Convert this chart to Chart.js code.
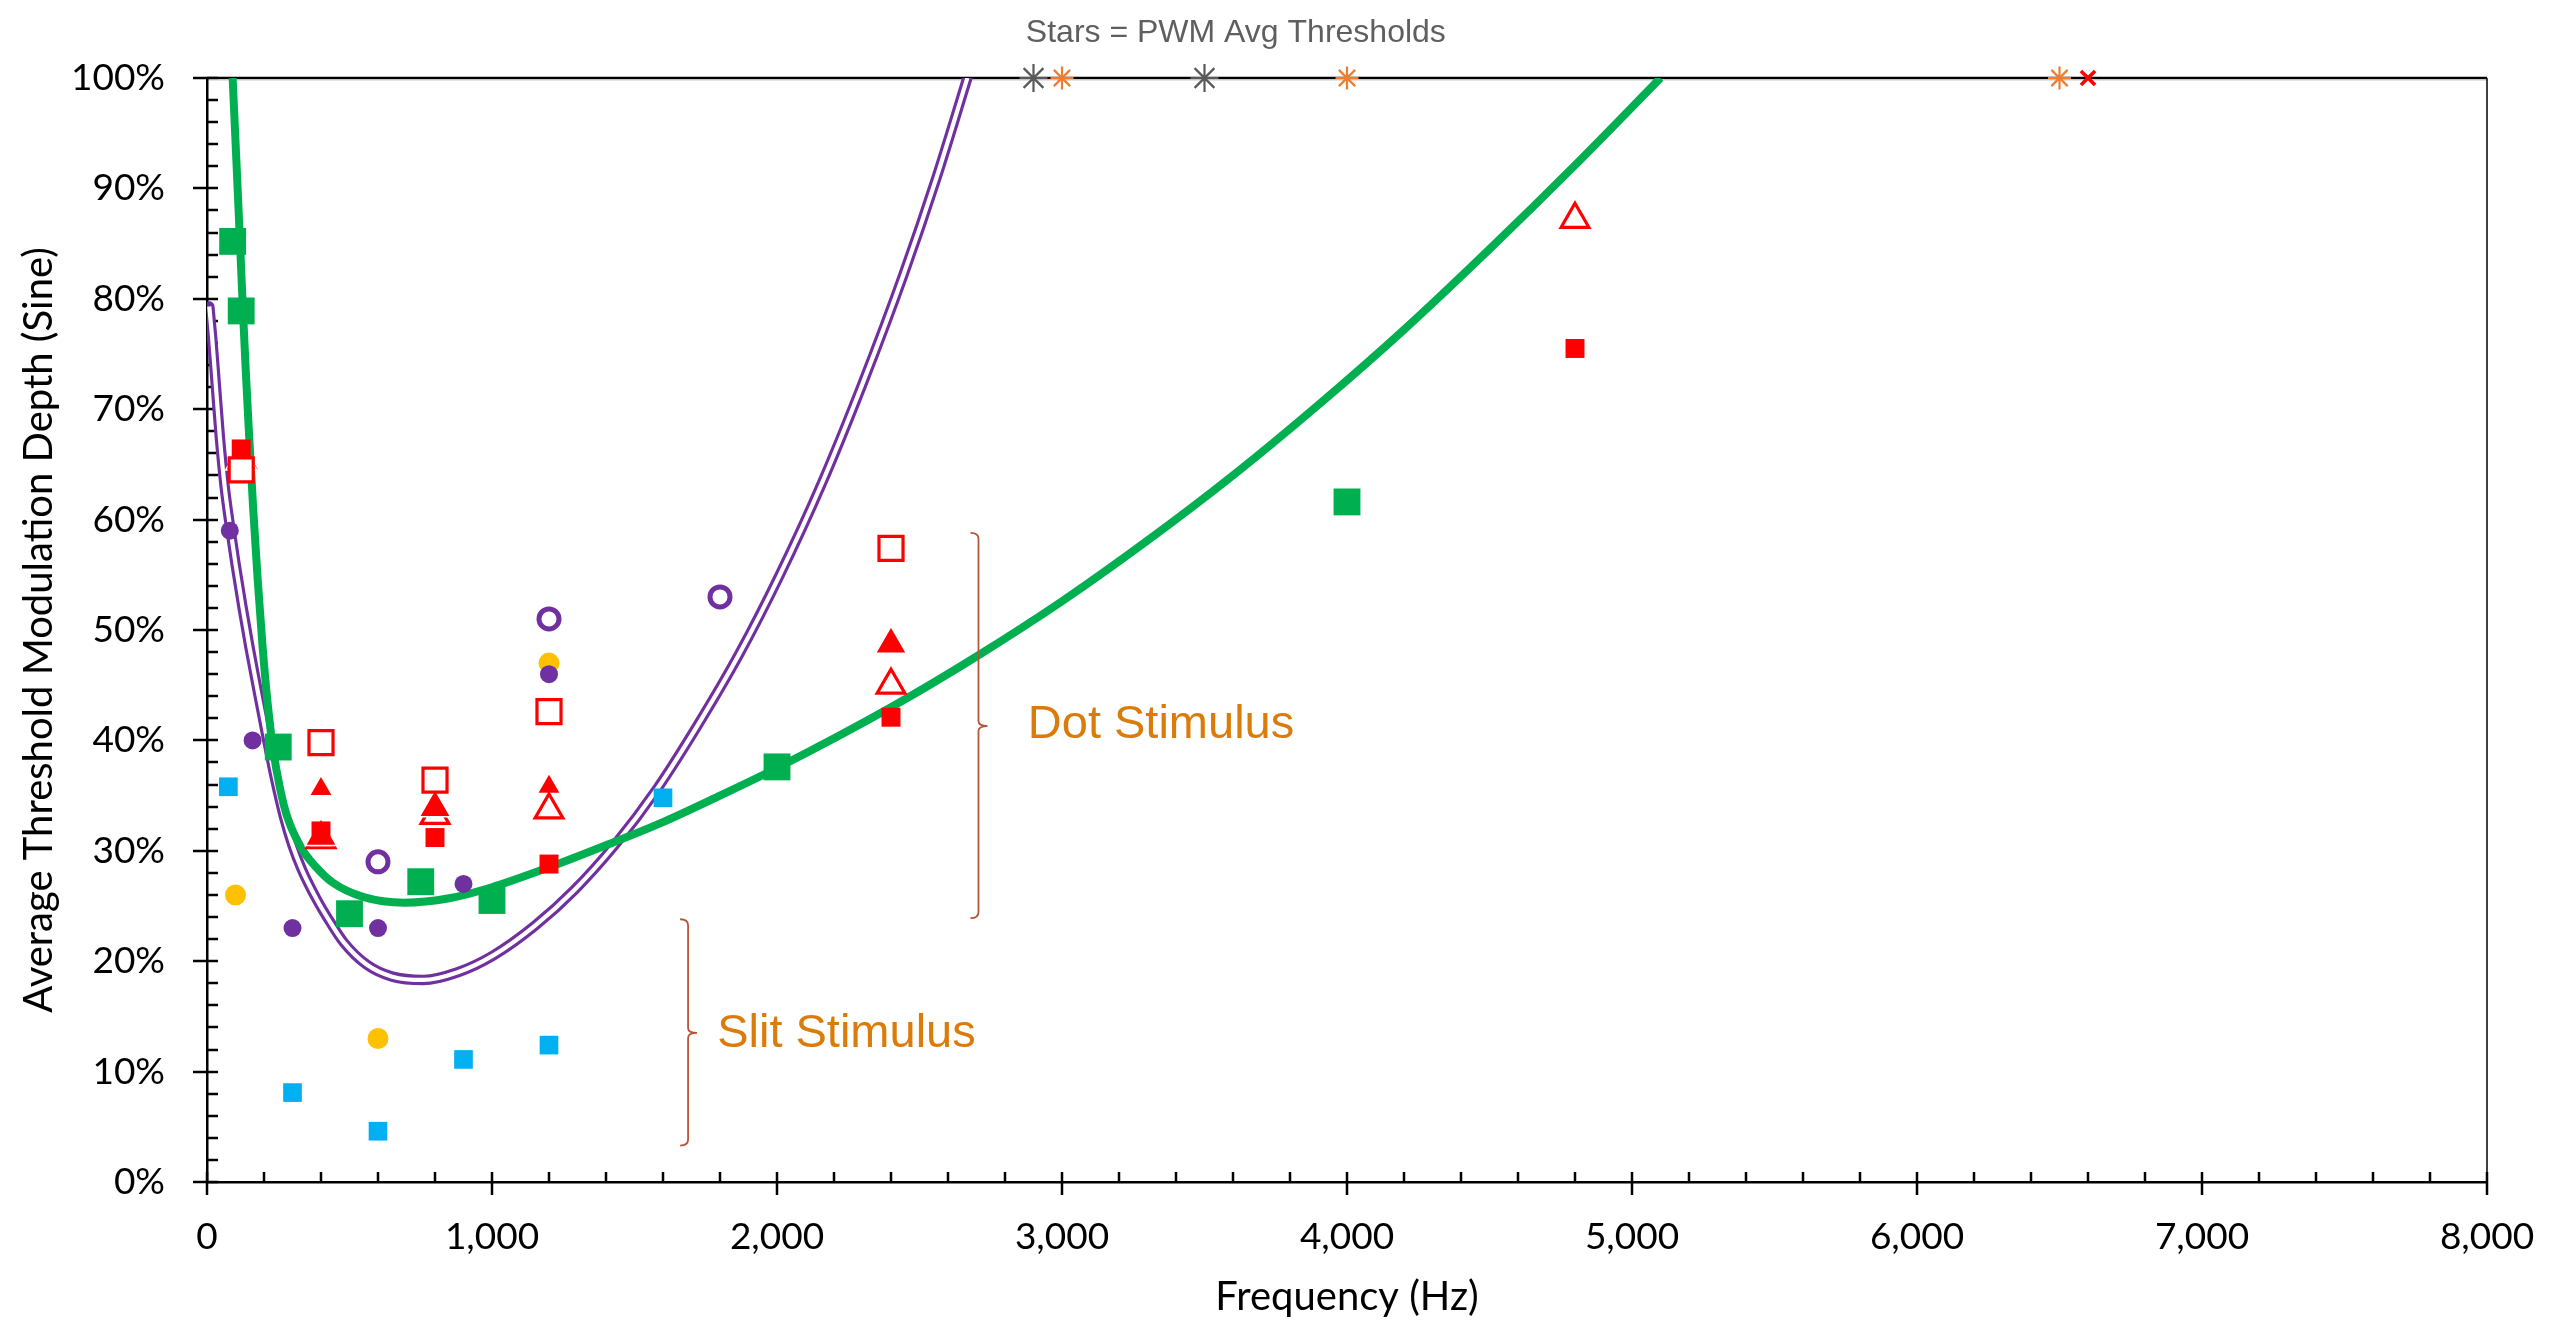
<!DOCTYPE html>
<html>
<head>
<meta charset="utf-8">
<title>Threshold Modulation Depth vs Frequency</title>
<script src="https://cdn.jsdelivr.net/npm/chart.js@4.4.1/dist/chart.umd.min.js"></script>
<style>
  html, body { margin: 0; padding: 0; background: #fff; }
  #chart { display: block; }
</style>
</head>
<body>
<canvas id="chart" width="2575" height="1322"></canvas>
<script>
// Frequencies in Hz, thresholds in % modulation depth (sine)

// fitted curves
var greenFitX = [90, 104, 116, 126, 136, 148, 162, 178, 195, 213, 232, 255, 280, 330, 380, 442, 550, 693, 850, 1000, 1200, 1400, 1600, 1800, 2000, 2400, 2700, 3000, 3300, 3600, 3900, 4200, 4500, 4800, 5100];
var greenFitY = [100, 92, 85, 79, 73.5, 67.5, 61, 54.5, 48.5, 43.3, 39.2, 35.8, 33.2, 30.3, 28.6, 27.1, 25.8, 25.3, 25.7, 26.7, 28.5, 30.5, 32.6, 35.0, 37.5, 43.0, 47.6, 52.6, 58.1, 64.0, 70.4, 77.2, 84.5, 92.1, 100];

var purpleFitX = [8, 18, 30, 45, 62, 80, 100, 125, 150, 180, 210, 240, 270, 300, 333, 385, 426, 480, 560, 650, 759, 880, 1003, 1150, 1291, 1430, 1579, 1720, 1867, 2010, 2156, 2300, 2444, 2560, 2668];
var purpleFitY = [79.3, 76.5, 72.5, 67.5, 63, 59.5, 56, 52, 48.3, 44.2, 40.2, 36.4, 33.1, 30.5, 28.3, 25.6, 23.8, 21.7, 19.7, 18.6, 18.3, 19.0, 20.5, 23.2, 26.5, 30.5, 35.6, 41.3, 47.8, 55.0, 63.2, 72.3, 82.2, 91.0, 100];

// measured thresholds
var greenSqX = [90, 120, 250, 500, 750, 1000, 2000, 4000];
var greenSqY = [85.2, 78.9, 39.4, 24.3, 27.2, 25.5, 37.6, 61.6];

var redOpenSqX = [120, 400, 800, 1200, 2400];
var redOpenSqY = [64.5, 39.8, 36.4, 42.6, 57.4];

var redSqX = [120, 400, 800, 1200, 2400, 4800];
var redSqY = [66.4, 31.8, 31.2, 28.8, 42.1, 75.5];

var redTriX = [120, 400, 800, 2400];
var redTriY = [65.3, 31.3, 33.9, 48.7];

var redOpenTriX = [120, 400, 800, 1200, 2400, 4800];
var redOpenTriY = [65.4, 31.0, 33.2, 33.7, 45.0, 87.2];

var redSmallTriX = [400, 1200];
var redSmallTriY = [35.6, 35.8];

var purpleDotX = [80, 160, 300, 600, 900, 1200];
var purpleDotY = [59.0, 40.0, 23.0, 23.0, 27.0, 46.0];

var purpleRingX = [600, 1200, 1800];
var purpleRingY = [29.0, 51.0, 53.0];

var yellowDotX = [100, 600, 1200];
var yellowDotY = [26.0, 13.0, 47.0];

var cyanSqX = [75, 300, 600, 900, 1200, 1600];
var cyanSqY = [35.8, 8.1, 4.6, 11.1, 12.4, 34.8];

// PWM averages (off the top of the scale)
var grayStarX = [2900, 3500];
var grayStarY = [100, 100];
var orangeStarX = [3000, 4000, 6500];
var orangeStarY = [100, 100, 100];
var redCrossX = [6600];
var redCrossY = [100];

function pts(xs, ys) {
    return xs.map(function (x, i) { return { x: x, y: ys[i] }; });
}

// brace annotations, in data units
var braces = [
    { x: 2707, top: 58.8, bottom: 23.9, mid: 41.3, text: 'Dot Stimulus', tx: 2880, ty: 40.2 },
    { x: 1688, top: 23.8, bottom: 3.3, mid: 13.5, text: 'Slit Stimulus', tx: 1790, ty: 12.2 }
];
var starsNote = { text: 'Stars = PWM Avg Thresholds', x: 3610, y: 103.3 };

var frame = {
    id: 'frame',
    beforeDatasetsDraw: function (chart) {
        var ctx = chart.ctx;
        var a = chart.chartArea;
        var xs = chart.scales.x;
        var ys = chart.scales.y;
        ctx.save();
        ctx.strokeStyle = '#000';
        ctx.lineWidth = 2.5;
        ctx.beginPath();
        for (var f = 0; f <= 8000; f += 200) {
            var px = Math.round(xs.getPixelForValue(f));
            ctx.moveTo(px, a.bottom + (f % 1000 === 0 ? 13 : 0));
            ctx.lineTo(px, a.bottom - 10);
        }
        for (var v = 0; v <= 100; v += 2) {
            var py = Math.round(ys.getPixelForValue(v));
            ctx.moveTo(a.left - (v % 10 === 0 ? 14 : 0), py);
            ctx.lineTo(a.left + 11, py);
        }
        ctx.stroke();
        // top + right edge of the plot area
        ctx.beginPath();
        ctx.lineWidth = 2.5;
        ctx.moveTo(a.left, a.top);
        ctx.lineTo(a.right, a.top);
        ctx.stroke();
        ctx.beginPath();
        ctx.strokeStyle = '#c8c8c8';
        ctx.lineWidth = 1.2;
        ctx.moveTo(a.left + 2, a.top + 2);
        ctx.lineTo(a.right, a.top + 2);
        ctx.stroke();
        ctx.beginPath();
        ctx.strokeStyle = '#000';
        ctx.lineWidth = 1.5;
        ctx.moveTo(a.right, a.top);
        ctx.lineTo(a.right, a.bottom);
        ctx.stroke();
        ctx.restore();
    },
    afterDatasetsDraw: function (chart) {
        var ctx = chart.ctx;
        var xs = chart.scales.x;
        var ys = chart.scales.y;
        ctx.save();
        braces.forEach(function (b) {
            var x = xs.getPixelForValue(b.x);
            var t = ys.getPixelForValue(b.top);
            var bt = ys.getPixelForValue(b.bottom);
            var m = ys.getPixelForValue(b.mid);
            ctx.beginPath();
            ctx.strokeStyle = '#b5553a';
            ctx.lineWidth = 1.8;
            ctx.moveTo(x - 8, t);
            ctx.quadraticCurveTo(x, t, x, t + 6);
            ctx.lineTo(x, m - 5);
            ctx.quadraticCurveTo(x, m, x + 9, m);
            ctx.quadraticCurveTo(x, m, x, m + 5);
            ctx.lineTo(x, bt - 6);
            ctx.quadraticCurveTo(x, bt, x - 8, bt);
            ctx.stroke();
            ctx.fillStyle = '#db7b09';
            ctx.font = '47px "Liberation Sans", Arial, sans-serif';
            ctx.textAlign = 'left';
            ctx.textBaseline = 'alphabetic';
            ctx.fillText(b.text, xs.getPixelForValue(b.tx), ys.getPixelForValue(b.ty));
        });
        ctx.fillStyle = '#5f5f5f';
        ctx.font = '32px "Liberation Sans", Arial, sans-serif';
        ctx.textAlign = 'center';
        ctx.fillText(starsNote.text, xs.getPixelForValue(starsNote.x), ys.getPixelForValue(starsNote.y));
        ctx.restore();
    }
};

Chart.defaults.font.family = 'Lato, "Open Sans", sans-serif';
Chart.defaults.color = '#000';

var ctx = document.getElementById('chart').getContext('2d');
var myChart = new Chart(ctx, {
    type: 'scatter',
    data: {
        datasets: [
            {
                label: 'PWM gray', data: pts(grayStarX, grayStarY), pointStyle: 'star',
                pointRadius: 14, borderColor: '#595959', backgroundColor: '#595959', borderWidth: 2.2, clip: false, order: 1
            },
            {
                label: 'PWM orange', data: pts(orangeStarX, orangeStarY), pointStyle: 'star',
                pointRadius: 11.5, borderColor: '#ed7d31', backgroundColor: '#ed7d31', borderWidth: 2.2, clip: false, order: 1
            },
            {
                label: 'PWM red', data: pts(redCrossX, redCrossY), pointStyle: 'crossRot',
                pointRadius: 10, borderColor: '#ff0000', backgroundColor: '#ff0000', borderWidth: 3.5, clip: false, order: 1
            },
            {
                label: 'Red small square', data: pts(redSqX, redSqY), pointStyle: 'rect',
                pointRadius: 13.4, backgroundColor: '#ff0000', borderColor: '#ff0000', borderWidth: 0, order: 2
            },
            {
                label: 'Red open square', data: pts(redOpenSqX, redOpenSqY), pointStyle: 'rect',
                pointRadius: 17, backgroundColor: '#ffffff', borderColor: '#ff0000', borderWidth: 3.2, order: 3
            },
            {
                label: 'Red triangle', data: pts(redTriX, redTriY), pointStyle: 'triangle',
                pointRadius: 18, backgroundColor: '#ff0000', borderColor: '#ffffff', borderWidth: 1.5, order: 4
            },
            {
                label: 'Red open triangle', data: pts(redOpenTriX, redOpenTriY), pointStyle: 'triangle',
                pointRadius: 16, backgroundColor: '#ffffff', borderColor: '#ff0000', borderWidth: 3.2, order: 5
            },
            {
                label: 'Red small triangle', data: pts(redSmallTriX, redSmallTriY), pointStyle: 'triangle',
                pointRadius: 12, backgroundColor: '#ff0000', borderColor: '#ff0000', borderWidth: 0, order: 4
            },
            {
                label: 'Purple ring', data: pts(purpleRingX, purpleRingY), pointStyle: 'circle',
                pointRadius: 10, backgroundColor: '#ffffff', borderColor: '#7030a0', borderWidth: 5, order: 6
            },
            {
                label: 'Purple dot', data: pts(purpleDotX, purpleDotY), pointStyle: 'circle',
                pointRadius: 9, backgroundColor: '#7030a0', borderColor: '#7030a0', borderWidth: 0, order: 6
            },
            {
                label: 'Yellow dot', data: pts(yellowDotX, yellowDotY), pointStyle: 'circle',
                pointRadius: 10.5, backgroundColor: '#ffc000', borderColor: '#ffc000', borderWidth: 0, order: 7
            },
            {
                label: 'Cyan square', data: pts(cyanSqX, cyanSqY), pointStyle: 'rect',
                pointRadius: 13.2, backgroundColor: '#00b0f0', borderColor: '#00b0f0', borderWidth: 0, order: 7
            },
            {
                label: 'Green square', data: pts(greenSqX, greenSqY), pointStyle: 'rect',
                pointRadius: 19, backgroundColor: '#00b050', borderColor: '#00b050', borderWidth: 0, order: 8
            },
            {
                label: 'Green fit', data: pts(greenFitX, greenFitY), showLine: true, pointRadius: 0,
                borderColor: '#00b050', borderWidth: 8, borderJoinStyle: 'round',
                cubicInterpolationMode: 'monotone', clip: 0, order: 20
            },
            {
                label: 'Purple fit inner', data: pts(purpleFitX, purpleFitY), showLine: true, pointRadius: 0,
                borderColor: '#ffffff', borderWidth: 4.2, borderJoinStyle: 'round',
                cubicInterpolationMode: 'monotone', clip: 0, order: 21
            },
            {
                label: 'Purple fit', data: pts(purpleFitX, purpleFitY), showLine: true, pointRadius: 0,
                borderColor: '#7030a0', borderWidth: 10.5, borderCapStyle: 'round', borderJoinStyle: 'round',
                cubicInterpolationMode: 'monotone', clip: 0, order: 22
            }
        ]
    },
    options: {
        responsive: false,
        animation: false,
        devicePixelRatio: 1,
        layout: { padding: { top: 78, right: 88, left: 0, bottom: 0 } },
        plugins: {
            legend: { display: false },
            tooltip: { enabled: false }
        },
        scales: {
            x: {
                type: 'linear',
                min: 0,
                max: 8000,
                grid: { display: false, drawTicks: false },
                border: { display: true, color: '#000', width: 2.5 },
                ticks: {
                    stepSize: 1000,
                    padding: 33,
                    maxRotation: 0,
                    color: '#000',
                    font: { size: 37 },
                    callback: function (v) { return v.toLocaleString('en-US'); }
                },
                title: {
                    display: true,
                    text: 'Frequency (Hz)',
                    color: '#000',
                    font: { size: 40 },
                    padding: { top: 0, bottom: 1 }
                },
                afterFit: function (s) { s.height = 140; s.paddingLeft = 0; s.paddingRight = 0; }
            },
            y: {
                type: 'linear',
                min: 0,
                max: 100,
                grid: { display: false, drawTicks: false },
                border: { display: true, color: '#000', width: 2.5 },
                ticks: {
                    stepSize: 10,
                    padding: 42,
                    color: '#000',
                    font: { size: 37 },
                    callback: function (v) { return v + '%'; }
                },
                title: {
                    display: true,
                    text: 'Average Threshold Modulation Depth (Sine)',
                    color: '#000',
                    font: { size: 40 },
                    padding: { top: 15, bottom: 0 }
                },
                afterFit: function (s) { s.width = 207; s.paddingTop = 0; s.paddingBottom = 0; }
            }
        }
    },
    plugins: [frame]
});
</script>
</body>
</html>
